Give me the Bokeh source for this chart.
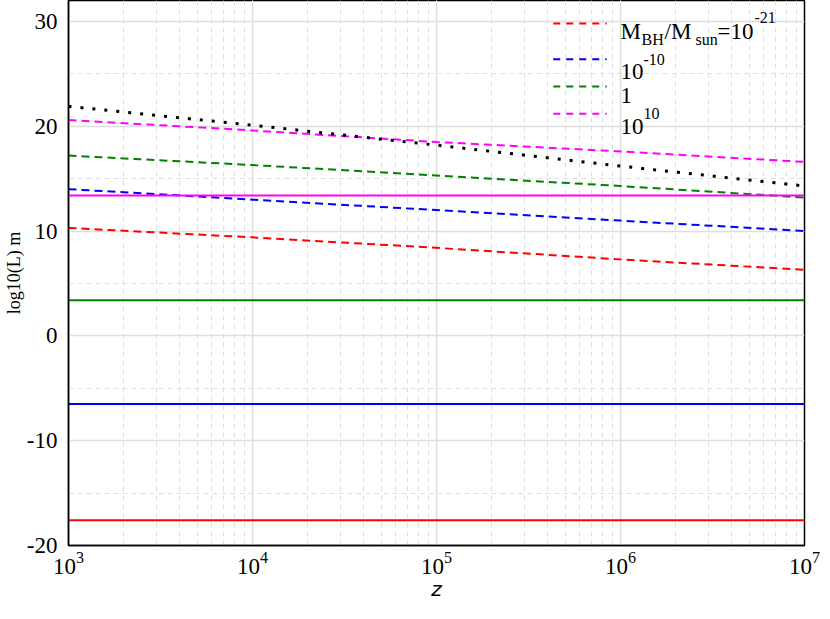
from bokeh.plotting import figure
from bokeh.models import (Range1d, SingleIntervalTicker, LogTicker, Label, Arrow,
                          CustomJSTickFormatter)
from bokeh.embed import file_html
from bokeh.resources import INLINE

# ---- data ----
z = [1e3, 1e4, 1e5, 1e6, 1e7]
colors = ["#ff0000", "#0000ff", "#008000", "#ff00ff"]
# dashed curves (log10 L vs z), one per black-hole mass
dashed_red = [10.3, 9.4, 8.4, 7.3, 6.3]
dashed_blue = [14.0, 13.0, 12.0, 11.0, 10.0]
dashed_green = [17.2, 16.3, 15.3, 14.3, 13.2]
dashed_magenta = [20.6, 19.6, 18.5, 17.6, 16.6]
# constant levels (solid lines), one per black-hole mass
solid_levels = [-17.6, -6.5, 3.4, 13.4]
# black dotted curve
dotted_black = [21.9, 20.1, 18.2, 16.2, 14.3]

x_range = (1e3, 1e7)
y_range = (-20, 32)

SERIF = "Liberation Serif"
W, H = 822, 603
ML, MR, MB = 60, 18, 41

p = figure(x_axis_type="log", width=W, height=H,
           x_range=Range1d(*x_range), y_range=Range1d(*y_range),
           output_backend="svg", toolbar_location=None,
           min_border_left=ML, min_border_right=MR, min_border_top=0, min_border_bottom=MB,
           background_fill_color="white", border_fill_color="white")

p.outline_line_color = "black"
p.outline_line_width = 1.5

# axes
p.xaxis.ticker = LogTicker(desired_num_ticks=5, num_minor_ticks=10)
p.yaxis.ticker = SingleIntervalTicker(interval=10, num_minor_ticks=2)
p.yaxis.formatter = CustomJSTickFormatter(code="return tick.toFixed(0);")

p.xaxis.axis_line_color = "black"
p.yaxis.axis_line_color = "black"
p.xaxis.axis_line_width = 1.5
p.yaxis.axis_line_width = 1.5
p.xaxis.major_tick_line_color = None
p.yaxis.major_tick_line_color = None
p.xaxis.minor_tick_line_color = None
p.yaxis.minor_tick_line_color = None
p.xaxis.major_label_text_font = SERIF
p.yaxis.major_label_text_font = SERIF
p.xaxis.major_label_text_font_size = "23px"
p.yaxis.major_label_text_font_size = "23px"
p.xaxis.major_label_text_color = "black"
p.yaxis.major_label_text_color = "black"

p.yaxis.major_label_standoff = 5
p.xaxis.major_label_standoff = 0
p.yaxis.axis_label = "log10(L) m"
p.yaxis.axis_label_text_font = SERIF
p.yaxis.axis_label_text_font_size = "18px"
p.yaxis.axis_label_text_font_style = "normal"
p.yaxis.axis_label_text_color = "black"
p.yaxis.axis_label_standoff = 0

p.xaxis.axis_label = "z"
p.xaxis.axis_label_text_font = "DejaVu Sans"
p.xaxis.axis_label_text_font_style = "italic"
p.xaxis.axis_label_text_font_size = "20px"
p.xaxis.axis_label_text_color = "black"
p.xaxis.axis_label_standoff = 0

# grids
for g in (p.xgrid[0], p.ygrid[0]):
    g.grid_line_color = "#dedede"
    g.grid_line_width = 1.5
    g.minor_grid_line_color = "#dedede"
    g.minor_grid_line_width = 1
    g.minor_grid_line_dash = "5 4"

# data lines
dashed = [dashed_red, dashed_blue, dashed_green, dashed_magenta]
for ys, c in zip(dashed, colors):
    p.line(z, ys, line_color=c, line_width=2, line_dash="8 5")
for lvl, c in zip(solid_levels, colors):
    p.line([x_range[0], x_range[1]], [lvl, lvl], line_color=c, line_width=2)
p.line(z, dotted_black, line_color="black", line_width=3, line_dash="3 9")

# ---- legend (manual, for sub/superscripts) ----
leg_x0, leg_x1, txt_x = 4.31e5, 8.41e5, 1e6
rows_y = [29.81, 26.39, 23.80, 21.20]
for yv, c in zip(rows_y, colors):
    p.add_layout(Arrow(end=None, x_start=leg_x0, x_end=leg_x1, y_start=yv, y_end=yv,
                       line_color=c, line_width=2, line_dash="7 6"))

def lab(text, y, dx, size):
    p.add_layout(Label(x=txt_x, y=y, x_offset=dx, text=text, text_font=SERIF,
                       text_font_size=size, text_baseline="alphabetic",
                       text_align="left", text_color="black"))

MAIN, SMALL = "23px", "16px"
# row 1: M_BH/M_sun=10^-21
lab("M", 29.07, 0, MAIN)
lab("BH", 28.24, 21, SMALL)
lab("/M", 29.07, 44, MAIN)
lab("sun", 28.24, 75, SMALL)
lab("=10", 29.07, 97, MAIN)
lab("-21", 30.37, 134, SMALL)
# row 2: 10^-10
lab("10", 25.19, 0, MAIN)
lab("-10", 26.39, 23, SMALL)
# row 3: 1
lab("1", 22.96, 0, MAIN)
# row 4: 10^10
lab("10", 20.0, 0, MAIN)
lab("10", 21.20, 23, SMALL)

open("out.html", "w").write(file_html(p, INLINE))
